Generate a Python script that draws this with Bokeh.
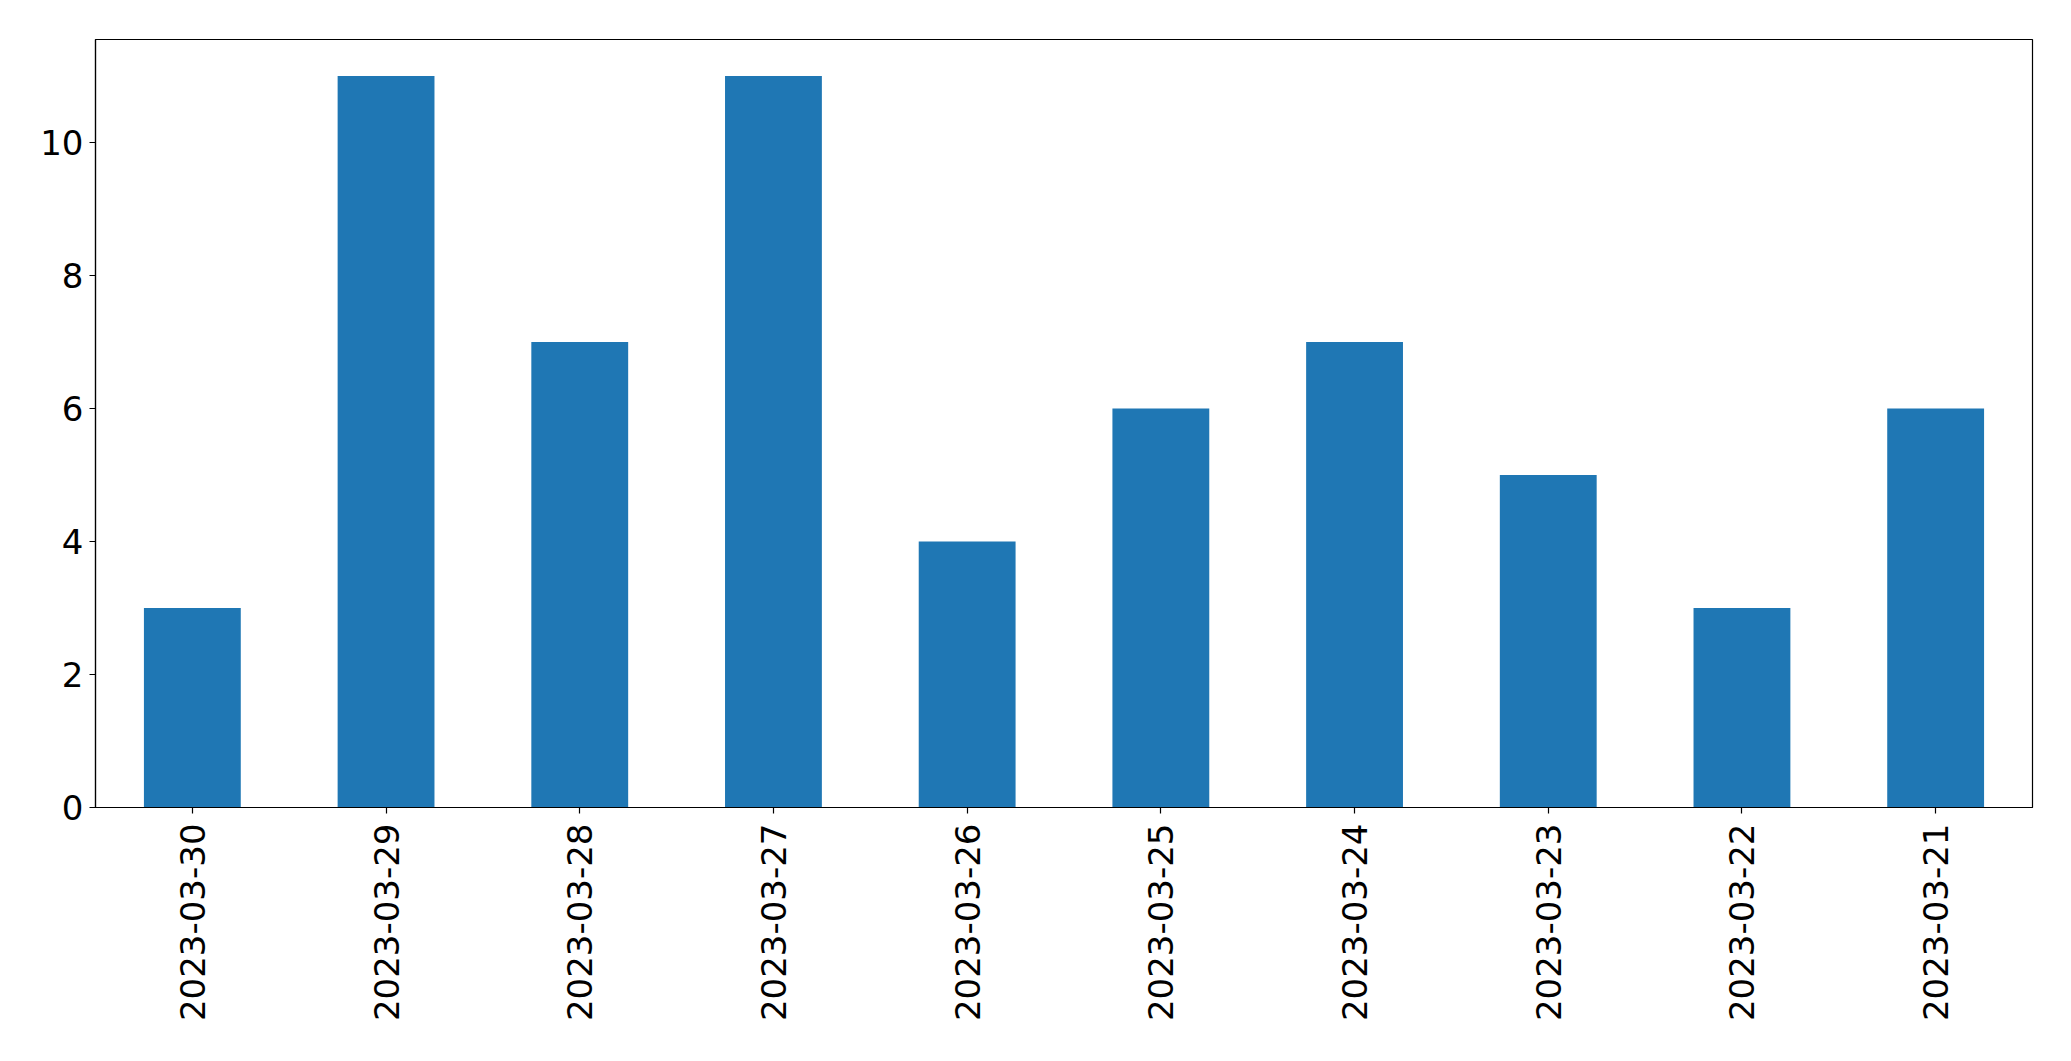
import math
from bokeh.plotting import figure
from bokeh.models import Range1d, FactorRange, FixedTicker, ColumnDataSource
from bokeh.embed import file_html
from bokeh.resources import INLINE

dates = ["2023-03-30", "2023-03-29", "2023-03-28", "2023-03-27", "2023-03-26",
         "2023-03-25", "2023-03-24", "2023-03-23", "2023-03-22", "2023-03-21"]
counts = [3, 11, 7, 11, 4, 6, 7, 5, 3, 6]
y_ticks = [0, 2, 4, 6, 8, 10]

source = ColumnDataSource(data=dict(date=dates, count=counts))

p = figure(
    x_range=FactorRange(factors=dates),
    y_range=Range1d(0, 11.55),
    frame_width=1937, frame_height=768,
    min_border_left=95, min_border_top=39, min_border_right=30, min_border_bottom=10,
    output_backend="svg", toolbar_location=None,
    background_fill_color="white", border_fill_color="white",
)

p.vbar(x="date", top="count", width=0.5, source=source,
       fill_color="#1f77b4", line_color=None)

p.outline_line_color = "black"
p.outline_line_width = 1.2
p.outline_line_alpha = 1.0
p.xgrid.visible = False
p.ygrid.visible = False

for ax in (p.xaxis[0], p.yaxis[0]):
    ax.axis_line_color = "black"
    ax.axis_line_width = 1.2
    ax.major_tick_line_color = "black"
    ax.major_tick_line_width = 1.2
    ax.major_tick_out = 6
    ax.major_tick_in = 0
    ax.minor_tick_line_color = None
    ax.major_label_text_font = "DejaVu Sans"
    ax.major_label_text_font_size = "34px"
    ax.major_label_text_color = "black"

p.yaxis.ticker = FixedTicker(ticks=y_ticks)
p.yaxis.major_label_standoff = 6
p.xaxis.major_label_orientation = math.pi / 2
p.xaxis.major_label_standoff = 10

open("out.html", "w").write(file_html(p, INLINE))
